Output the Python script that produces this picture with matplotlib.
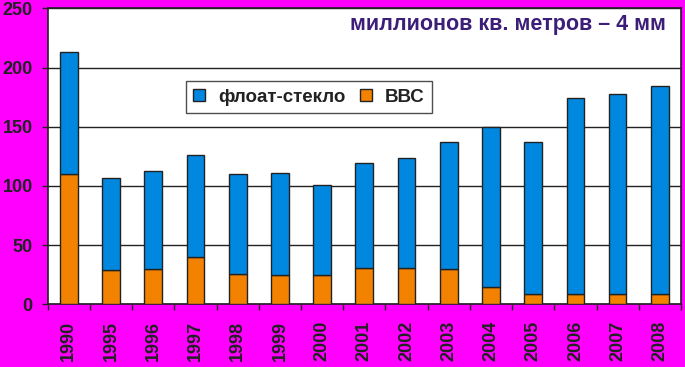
import numpy as np
import matplotlib
matplotlib.use("Agg")
import matplotlib.pyplot as plt

plt.rcParams['font.family'] = ['Liberation Sans', 'DejaVu Sans']

years = ['1990', '1995', '1996', '1997', '1998', '1999', '2000', '2001',
         '2002', '2003', '2004', '2005', '2006', '2007', '2008']
bbc = [110, 29, 30, 40, 26, 25, 24.5, 31, 31, 30, 15, 9, 9, 9, 9]
total = [213, 106.5, 112.5, 126, 110, 110.5, 100.5, 119, 124, 137, 149.5, 137, 174, 177.5, 184]
float_glass = [t - b for t, b in zip(total, bbc)]

BLUE = '#0088E0'
ORANGE = '#F38200'
EDGE = '#222222'
MAGENTA = '#FF00FF'

fig = plt.figure(figsize=(6.85, 3.67), dpi=100, facecolor=MAGENTA)
ax = fig.add_axes([0.0696, 0.1708, 0.9245, 0.8065])
ax.set_facecolor('white')

x = np.arange(len(years))
ax.bar(x, bbc, width=0.42, color=ORANGE, edgecolor=EDGE, linewidth=1.0,
       label='ВВС', zorder=3)
ax.bar(x, float_glass, width=0.42, bottom=bbc, color=BLUE, edgecolor=EDGE,
       linewidth=1.0, label='флоат-стекло', zorder=3)

ax.set_xlim(-0.5, len(years) - 0.5)
ax.set_ylim(0, 250)
ax.set_yticks([0, 50, 100, 150, 200, 250])
ax.yaxis.grid(True, color=EDGE, linewidth=1.0, zorder=1)

ax.set_xticks(x)
ax.set_xticklabels(years, rotation=90, fontsize=13, fontweight='bold', color=EDGE)
ax.set_xticks(np.arange(-0.5, len(years)), minor=True)
ax.tick_params(axis='x', which='major', length=0, pad=12)
ax.tick_params(axis='x', which='minor', length=4, width=1.0, color=EDGE)
ax.tick_params(axis='y', length=4.3, width=1.0, color=EDGE, pad=6.5,
               labelsize=13, labelcolor=EDGE)
for lbl in ax.get_yticklabels():
    lbl.set_fontweight('bold')

for s in ax.spines.values():
    s.set_color(EDGE)
    s.set_linewidth(1.2)

ax.text(0.976, 0.945, 'миллионов кв. метров – 4 мм', transform=ax.transAxes,
        ha='right', va='center', fontsize=15.5, fontweight='bold', color='#3C1E78')

handles, labels = ax.get_legend_handles_labels()
leg = ax.legend(handles[::-1], labels[::-1], ncol=2, loc='upper left',
                bbox_to_anchor=(0.218, 0.754), borderaxespad=0, frameon=True,
                fancybox=False, edgecolor=EDGE,
                prop={'weight': 'bold', 'size': 13.5},
                handlelength=0.64, handleheight=0.64, handletextpad=0.7,
                columnspacing=0.75, borderpad=0.4)
leg.get_frame().set_linewidth(1.0)
for t in leg.get_texts():
    t.set_color(EDGE)

fig.savefig('out.png', dpi=100, facecolor=MAGENTA)
